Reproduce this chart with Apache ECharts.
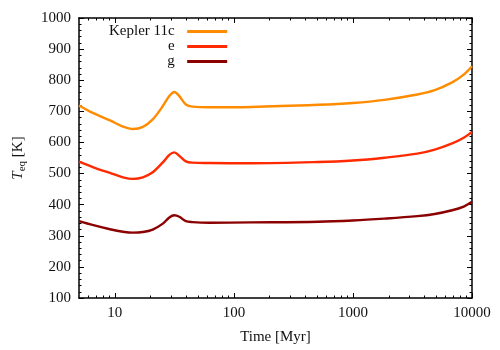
<!DOCTYPE html>
<html lang="en">
  <head>
    <meta charset="UTF-8" />
    <title>Teq vs time</title>
  </head>
  <body style="margin: 0">
    <div id="main" style="width: 500px; height: 350px"></div>

    <script src="https://cdn.jsdelivr.net/npm/echarts@6/dist/echarts.min.js"></script>
    <script>
      // time in Myr
      const times = [5, 6.6, 9.1, 11.7, 14.2, 17.2, 20.8, 25.3, 28.7, 31.6, 34.8, 39.5, 44.8, 62, 140, 510, 1000, 1840, 3470, 4860, 6810, 8520, 10000]
      const kepler11c = [719, 694, 671, 651, 643, 650, 674, 717, 749, 762, 749, 722, 715, 713, 714, 721, 727, 737, 754, 768, 793, 818, 845]
      const kepler11e = [538, 520, 502, 488, 483, 488, 504, 536, 560, 568, 557, 539, 535, 534, 533, 537, 542, 551, 564, 577, 597, 615, 634]
      const kepler11g = [347, 334, 321, 313, 310, 312, 320, 339, 359, 366, 361, 347, 344, 342, 343, 345, 349, 355, 363, 370, 382, 394, 409]
      const seriesNames = ['Kepler 11c', 'e', 'g']
      const colors = ['#ff8c00', '#ff2a00', '#8b0000']
      const xMajor = [10, 100, 1000, 10000]
      const xMinor = [6, 7, 8, 9, 20, 30, 40, 50, 60, 70, 80, 90, 200, 300, 400, 500, 600, 700, 800, 900, 2000, 3000, 4000, 5000, 6000, 7000, 8000, 9000]

      const font = 'Liberation Serif'
      const fs = 15
      const zip = (ys) => times.map((t, i) => [t, ys[i]])

      function xAxisOf(position, ticks, len, line, labels) {
        return {
          type: 'log',
          logBase: 10,
          min: 5,
          max: 10000,
          position: position,
          name: labels ? 'Time [Myr]' : '',
          nameLocation: 'middle',
          nameGap: 32,
          nameTextStyle: { fontFamily: font, fontSize: fs, color: '#111' },
          axisLine: { show: line, lineStyle: { color: '#000', width: 1.5 } },
          axisTick: { show: true, inside: true, length: len, customValues: ticks, lineStyle: { color: '#000', width: 1 } },
          axisLabel: {
            show: labels,
            customValues: xMajor,
            margin: 8,
            fontFamily: font,
            fontSize: fs,
            color: '#111',
            formatter: (v) => String(Math.round(v))
          },
          splitLine: { show: false },
          minorTick: { show: false }
        }
      }

      function yAxisOf(position, labels) {
        return {
          type: 'value',
          min: 100,
          max: 1000,
          interval: 100,
          position: position,
          name: labels ? '{i|T}{s|eq} [K]' : '',
          nameLocation: 'middle',
          nameRotate: 90,
          nameGap: 51,
          nameTextStyle: {
            fontFamily: font,
            fontSize: fs,
            color: '#111',
            lineHeight: 20,
            rich: {
              i: { fontFamily: font, fontSize: fs, fontStyle: 'italic', color: '#111', lineHeight: 20 },
              s: { fontFamily: font, fontSize: 11, color: '#111', lineHeight: 10, verticalAlign: 'bottom' }
            }
          },
          axisLine: { show: true, lineStyle: { color: '#000', width: 1.5 } },
          axisTick: { show: true, inside: true, length: 5, lineStyle: { color: '#000', width: 1 } },
          minorTick: { show: true, splitNumber: 5, length: 2.5, lineStyle: { color: '#000', width: 1 } },
          axisLabel: {
            show: labels,
            margin: 8,
            fontFamily: font,
            fontSize: fs,
            color: '#111',
            formatter: (v) => String(v)
          },
          splitLine: { show: false }
        }
      }

      let mCharts = echarts.init(document.querySelector('#main'))
      let option = {
        animation: false,
        grid: { left: 75, right: 28, top: 18, bottom: 50 },
        legend: {
          data: seriesNames,
          orient: 'vertical',
          align: 'right',
          left: 104,
          top: 19,
          icon: 'rect',
          itemWidth: 40,
          itemHeight: 3,
          itemGap: 0,
          formatter: (name) => name + '  ',
          textStyle: { fontFamily: font, fontSize: fs, color: '#111' }
        },
        xAxis: [
          xAxisOf('bottom', xMajor, 5, true, true),
          xAxisOf('bottom', xMinor, 2.5, false, false),
          xAxisOf('top', xMajor, 5, true, false),
          xAxisOf('top', xMinor, 2.5, false, false)
        ],
        yAxis: [yAxisOf('left', true), yAxisOf('right', false)],
        series: [kepler11c, kepler11e, kepler11g].map((ys, i) => ({
          name: seriesNames[i],
          type: 'line',
          data: zip(ys),
          smooth: 0.35,
          symbol: 'none',
          xAxisIndex: 0,
          yAxisIndex: 0,
          color: colors[i],
          lineStyle: { color: colors[i], width: 2.4 }
        }))
      }
      mCharts.setOption(option)
    </script>
  </body>
</html>
